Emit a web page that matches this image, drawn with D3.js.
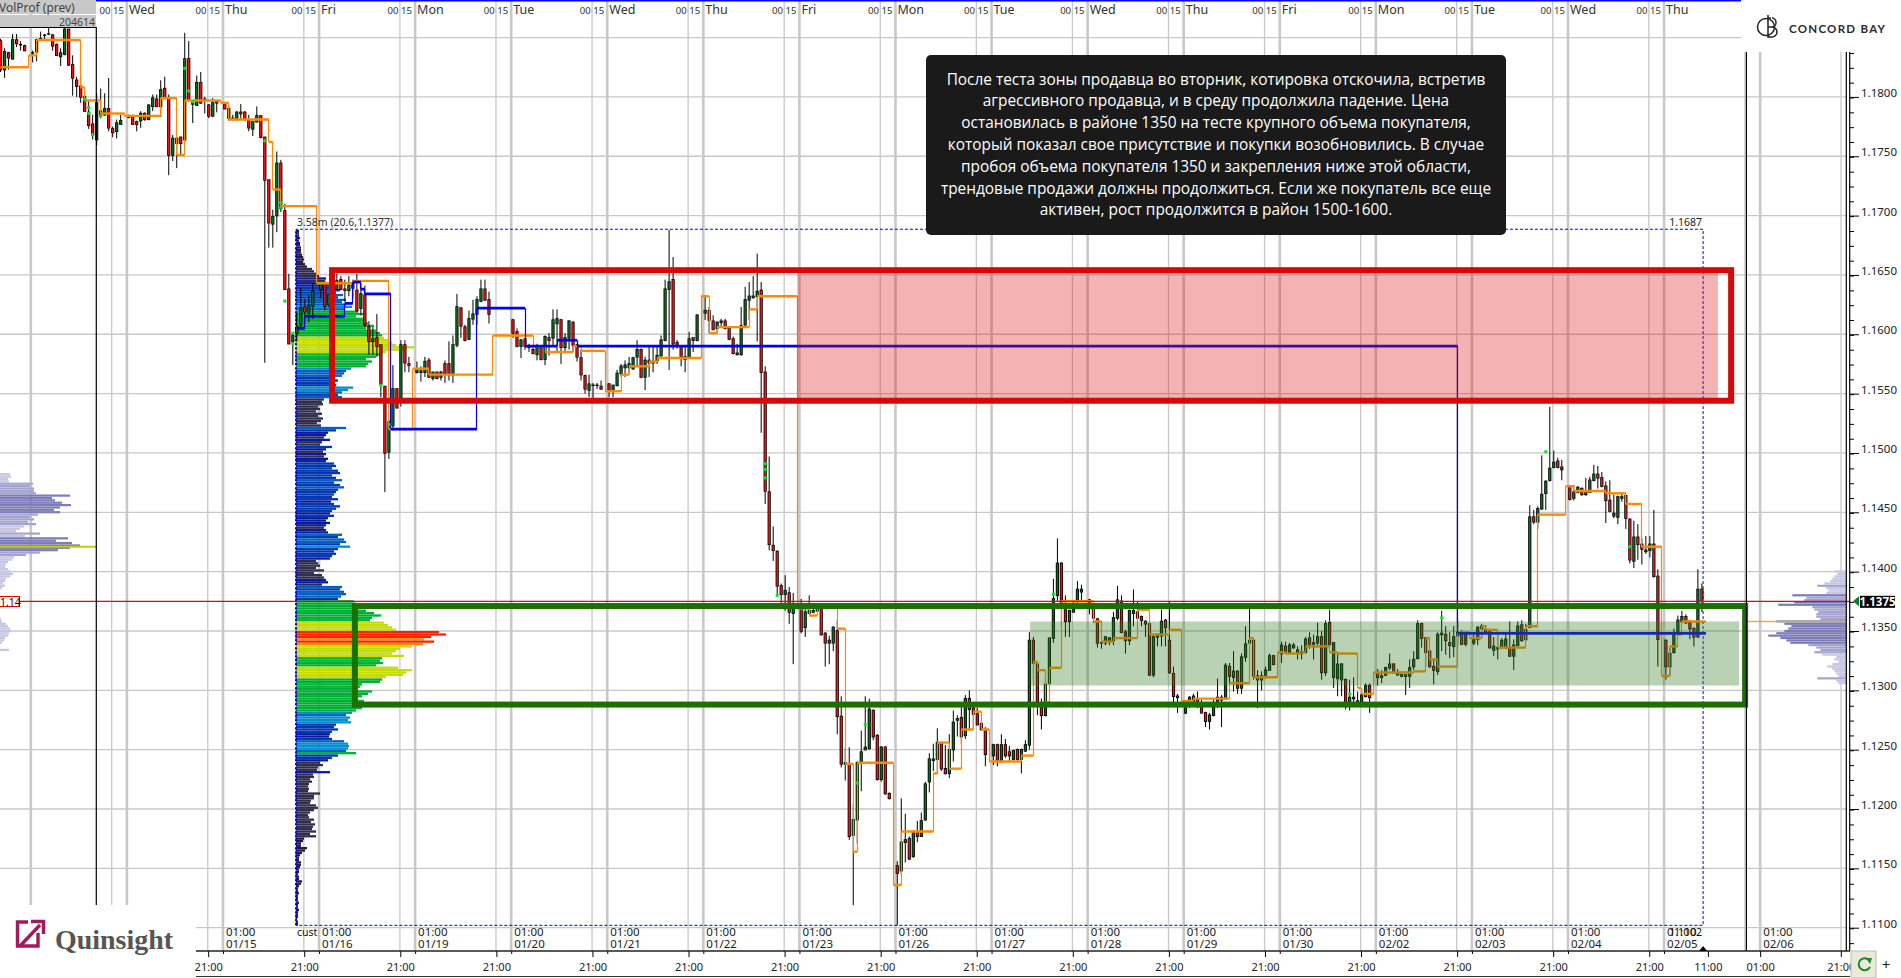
<!DOCTYPE html>
<html><head><meta charset="utf-8">
<style>html,body{margin:0;padding:0;background:#fff;overflow:hidden}svg{display:block}</style>
<script src="https://cdn.jsdelivr.net/npm/d3@7/dist/d3.min.js"></script></head>
<body><svg id="c" width="1901" height="978" font-family="Noto Sans"></svg>
<script>
// Prices are stored in pips over 1.0000 (1375 = 1.1375). Candle = [open, high, low, close]; null = no trading.
const candles=[
[1847,1849,1821,1823],[1823,1841,1816,1838],[1837,1838,1823,1833],[1832,1853,1832,1848],[1848,1853,1842,1845],[1844,1847,1839,1844],[1843,1844,1839,1839],null,
[1837,1839,1829,1837],[1838,1849,1830,1848],[1849,1855,1847,1848],[1852,1853,1848,1852],[1853,1858,1852,1853],[1852,1853,1839,1843],[1844,1845,1835,1835],[1834,1841,1826,1837],
[1836,1858,1835,1857],[1857,1857,1826,1827],[1827,1835,1801,1816],[1814,1817,1800,1809],[1809,1817,1795,1800],[1800,1805,1788,1788],[1787,1797,1773,1776],[1777,1785,1764,1768],
[1764,1803,1759,1795],[1788,1807,1782,1784],[1785,1803,1784,1790],[1790,1816,1771,1774],[1773,1775,1766,1770],[1771,1781,1765,1778],[1777,1785,1777,1780],null,
[1783,1785,1782,1783],[1784,1785,1777,1777],[1779,1780,1771,1777],[1780,1788,1774,1786],[1786,1787,1780,1781],[1781,1794,1781,1793],[1792,1802,1788,1799],[1798,1802,1792,1792],
[1792,1814,1783,1806],[1807,1817,1798,1799],[1799,1802,1734,1751],[1751,1768,1746,1765],[1765,1766,1740,1761],[1766,1766,1751,1761],[1764,1854,1762,1832],[1832,1847,1797,1797],
[1794,1797,1778,1795],[1793,1818,1793,1812],[1812,1821,1794,1795],[1797,1800,1786,1798],[1793,1794,1782,1784],[1784,1799,1783,1795],[1795,1797,1787,1796],null,
[1794,1795,1790,1790],[1790,1792,1780,1782],[1781,1785,1780,1782],[1782,1788,1780,1787],[1787,1794,1781,1786],[1787,1788,1780,1781],[1780,1785,1771,1774],[1773,1779,1767,1779],
[1779,1792,1779,1784],[1784,1784,1765,1766],[1766,1766,1576,1730],[1730,1730,1673,1694],[1693,1705,1673,1699],[1700,1754,1686,1744],[1744,1747,1703,1706],[1704,1710,1637,1638],
[1638,1651,1592,1592],[1594,1601,1574,1599],[1601,1618,1594,1606],[1608,1639,1606,1622],[1623,1630,1609,1619],[1618,1633,1610,1624],[1624,1643,1613,1636],null,
[1638,1644,1630,1643],[1643,1646,1620,1624],[1625,1634,1623,1633],[1633,1644,1632,1641],[1638,1651,1637,1645],[1646,1649,1637,1638],[1638,1646,1627,1637],[1637,1649,1632,1641],
[1643,1646,1630,1639],[1637,1651,1619,1620],[1622,1643,1616,1634],[1633,1641,1606,1608],[1606,1611,1583,1594],[1594,1606,1583,1596],[1597,1617,1581,1590],[1591,1591,1547,1558],
[1556,1556,1467,1500],[1501,1528,1495,1526],[1523,1574,1519,1554],[1554,1554,1538,1538],[1546,1595,1539,1591],[1591,1595,1568,1576],[1575,1581,1568,1574],null,
[1568,1577,1567,1570],[1569,1573,1560,1568],[1568,1581,1564,1577],[1578,1580,1563,1564],[1563,1568,1561,1568],[1568,1568,1562,1563],[1564,1569,1561,1568],[1575,1578,1559,1567],
[1575,1594,1561,1566],[1566,1599,1559,1591],[1591,1634,1589,1623],[1622,1623,1597,1607],[1606,1608,1594,1595],[1596,1620,1595,1613],[1613,1629,1608,1617],[1617,1632,1608,1629],
[1628,1646,1627,1638],[1638,1646,1628,1629],[1629,1636,1609,1617],null,null,null,null,null,
[1612,1613,1597,1601],[1602,1605,1589,1590],[1590,1596,1580,1595],[1596,1596,1587,1590],[1589,1592,1585,1590],[1587,1589,1583,1584],[1583,1592,1578,1590],[1590,1590,1578,1579],
[1579,1599,1574,1598],[1597,1601,1582,1595],[1597,1621,1590,1612],[1609,1621,1584,1613],[1612,1613,1575,1589],[1589,1601,1585,1597],[1597,1612,1587,1611],[1610,1611,1585,1591],
[1591,1592,1577,1581],[1580,1587,1561,1566],[1565,1566,1550,1554],[1553,1566,1547,1558],[1557,1559,1546,1557],[1557,1559,1554,1557],[1556,1561,1553,1554],null,
[1558,1559,1547,1552],[1552,1557,1547,1557],[1557,1570,1556,1567],[1567,1575,1564,1573],[1572,1578,1564,1574],[1572,1581,1567,1575],[1571,1581,1570,1580],[1581,1595,1573,1587],
[1587,1588,1563,1564],[1564,1581,1553,1578],[1578,1590,1564,1576],[1576,1590,1568,1577],[1578,1591,1575,1582],[1582,1599,1581,1595],[1595,1646,1594,1638],[1638,1688,1570,1644],
[1646,1665,1587,1592],[1593,1595,1588,1590],[1590,1590,1573,1580],[1579,1590,1568,1581],[1581,1602,1580,1596],[1597,1597,1585,1595],[1595,1617,1594,1616],null,
[1618,1633,1612,1620],[1620,1623,1601,1612],[1611,1616,1604,1604],[1605,1611,1601,1610],[1610,1613,1606,1611],[1611,1613,1604,1605],[1605,1607,1595,1596],[1596,1598,1583,1584],
[1583,1592,1582,1584],[1583,1623,1582,1607],[1608,1640,1607,1629],[1629,1644,1612,1632],[1631,1649,1630,1632],[1632,1668,1594,1636],[1637,1644,1517,1568],[1568,1573,1457,1468],
[1467,1497,1418,1423],[1422,1438,1409,1418],[1417,1418,1380,1388],[1388,1390,1372,1381],[1381,1397,1367,1384],[1382,1387,1356,1366],[1365,1382,1322,1369],null,
[1369,1377,1348,1350],[1353,1369,1345,1366],[1365,1380,1365,1367],[1366,1370,1365,1367],[1367,1370,1366,1369],[1369,1369,1346,1347],[1348,1349,1320,1340],[1340,1346,1322,1342],
[1340,1354,1333,1353],[1350,1359,1263,1278],[1278,1295,1235,1238],[1238,1251,1224,1239],[1238,1252,1174,1177],[1178,1204,1119,1191],[1191,1240,1171,1239],[1240,1266,1215,1248],
[1250,1295,1250,1252],[1251,1293,1250,1284],[1283,1284,1258,1261],[1262,1263,1224,1225],[1225,1253,1223,1252],[1252,1253,1212,1213],[1213,1214,1208,1209],null,
[1152,1156,1102,1146],[1148,1209,1144,1172],[1172,1196,1155,1174],[1175,1177,1157,1158],[1160,1182,1159,1181],[1181,1190,1172,1177],[1177,1197,1177,1190],[1191,1223,1190,1221],
[1223,1247,1214,1242],[1241,1255,1232,1242],[1242,1268,1230,1256],[1256,1256,1232,1234],[1234,1254,1229,1230],[1230,1263,1226,1250],[1250,1283,1240,1273],[1275,1279,1261,1276],
[1277,1288,1255,1261],[1262,1296,1259,1293],[1293,1300,1267,1284],[1285,1290,1267,1280],[1280,1285,1271,1271],[1272,1274,1266,1267],[1267,1269,1236,1246],null,
[1245,1255,1237,1254],[1254,1255,1236,1240],[1240,1263,1239,1254],[1254,1259,1243,1245],[1248,1253,1240,1245],[1242,1250,1241,1249],[1250,1251,1241,1242],[1242,1251,1230,1250],
[1249,1258,1248,1254],[1254,1349,1250,1342],[1342,1345,1310,1323],[1322,1323,1279,1288],[1285,1293,1267,1279],[1279,1310,1278,1305],[1306,1344,1304,1344],[1344,1394,1340,1377],
[1380,1428,1375,1407],[1407,1408,1353,1373],[1372,1380,1345,1358],[1358,1368,1345,1367],[1366,1375,1366,1368],[1375,1392,1369,1385],[1383,1389,1375,1385],null,
[1374,1377,1364,1376],[1368,1369,1357,1361],[1360,1361,1336,1340],[1340,1358,1335,1340],[1340,1345,1338,1345],[1342,1345,1338,1344],[1342,1366,1338,1361],[1361,1388,1359,1376],
[1375,1380,1348,1349],[1349,1351,1331,1342],[1342,1368,1338,1367],[1365,1385,1354,1367],[1366,1375,1358,1361],[1362,1363,1354,1359],[1356,1359,1345,1358],[1356,1356,1312,1313],
[1313,1346,1311,1345],[1345,1347,1337,1347],[1346,1368,1337,1358],[1359,1360,1337,1353],[1342,1375,1314,1315],[1314,1320,1289,1295],[1294,1297,1281,1295],null,
[1281,1286,1280,1285],[1290,1295,1285,1294],[1291,1297,1286,1295],[1293,1299,1285,1290],[1286,1292,1281,1281],[1281,1282,1269,1274],[1274,1281,1267,1279],[1279,1293,1278,1286],
[1290,1310,1285,1294],[1292,1296,1269,1294],[1293,1323,1292,1321],[1320,1323,1297,1312],[1311,1333,1299,1316],[1316,1317,1297,1302],[1302,1331,1297,1328],[1328,1354,1324,1339],
[1340,1372,1314,1342],[1342,1342,1309,1312],[1312,1317,1285,1309],[1309,1316,1300,1312],[1313,1320,1310,1317],[1317,1331,1317,1329],[1329,1330,1321,1322],null,
[1331,1341,1323,1338],[1337,1341,1331,1333],[1332,1340,1331,1338],[1336,1340,1335,1338],[1332,1337,1326,1334],[1331,1338,1326,1332],[1332,1345,1331,1343],[1344,1349,1335,1339],
[1339,1347,1326,1340],[1340,1357,1338,1345],[1345,1350,1309,1315],[1315,1359,1312,1356],[1357,1368,1337,1339],[1311,1340,1302,1340],[1310,1331,1295,1322],[1309,1323,1295,1322],
[1309,1310,1284,1290],[1289,1309,1283,1294],[1293,1311,1289,1294],[1290,1299,1289,1291],[1290,1302,1288,1296],[1295,1306,1294,1304],[1304,1306,1281,1294],null,
[1315,1318,1304,1311],[1311,1317,1306,1312],[1313,1320,1312,1319],[1319,1331,1317,1322],[1322,1323,1314,1315],[1313,1318,1313,1315],[1312,1314,1311,1313],[1313,1313,1296,1312],
[1312,1326,1302,1319],[1320,1333,1317,1326],[1327,1359,1326,1356],[1356,1357,1336,1344],[1344,1345,1320,1332],[1333,1333,1319,1320],[1320,1326,1305,1317],[1316,1349,1313,1347],
[1347,1367,1333,1348],[1347,1354,1330,1342],[1340,1349,1327,1338],[1337,1354,1328,1345],[1346,1359,1337,1349],[1349,1351,1338,1339],[1339,1349,1337,1348],null,
[1340,1347,1338,1343],[1343,1354,1338,1353],[1352,1356,1344,1354],[1351,1355,1348,1349],[1349,1350,1335,1336],[1334,1345,1329,1337],[1335,1348,1326,1336],[1336,1344,1335,1342],
[1336,1348,1335,1343],[1336,1358,1328,1329],[1329,1343,1317,1338],[1338,1358,1337,1354],[1355,1359,1341,1342],[1343,1356,1341,1351],[1353,1456,1353,1446],[1446,1452,1440,1442],
[1442,1455,1436,1453],[1453,1498,1452,1465],[1466,1477,1452,1476],[1477,1539,1476,1487],[1488,1502,1487,1492],[1493,1496,1487,1488],[1486,1494,1477,1488],null,
[1472,1473,1460,1461],[1462,1473,1460,1467],[1467,1472,1466,1471],[1470,1471,1464,1465],[1465,1479,1464,1468],[1467,1480,1467,1477],[1477,1490,1476,1482],[1482,1489,1470,1479],
[1479,1484,1471,1472],[1472,1476,1441,1460],[1460,1477,1450,1451],[1447,1465,1445,1449],[1446,1464,1440,1463],[1462,1466,1459,1463],[1464,1464,1436,1445],[1444,1445,1407,1410],
[1409,1443,1403,1429],[1429,1440,1410,1423],[1423,1428,1406,1419],[1417,1430,1415,1418],[1418,1430,1412,1423],[1423,1452,1395,1396],[1396,1402,1320,1343],null,
[1342,1343,1309,1320],[1320,1336,1312,1331],[1332,1352,1331,1348],[1348,1363,1347,1359],[1358,1367,1357,1362],[1362,1364,1356,1357],[1358,1359,1343,1352],[1352,1353,1337,1345],
[1345,1402,1345,1385],[1385,1390,1366,1375]];
// POC steps: [bar index where the level starts, level in pips]
const orangeSteps=[[0,1825],[7,1835],[9,1848],[20,1808],[21,1797],[25,1786],[31,1784],[40,1799],[44,1751],[46,1797],[55,1795],[57,1781],[67,1762],[68,1722],[70,1708],[79,1643],[88,1645],[97,1520],[103,1571],[107,1566],[123,1599],[133,1590],[136,1585],[143,1590],[145,1586],[151,1552],[155,1566],[157,1573],[162,1577],[164,1580],[175,1632],[177,1601],[179,1606],[187,1621],[189,1632],[199,1369],[202,1363],[204,1370],[209,1352],[211,1238],[213,1164],[214,1239],[223,1136],[225,1181],[233,1230],[234,1256],[237,1234],[240,1267],[243,1282],[245,1267],[247,1240],[255,1245],[258,1324],[259,1317],[261,1290],[262,1319],[265,1375],[273,1358],[275,1341],[278,1344],[284,1368],[287,1347],[292,1351],[295,1291],[298,1293],[307,1306],[312,1344],[313,1311],[319,1332],[321,1331],[325,1332],[326,1337],[332,1332],[334,1331],[339,1302],[340,1297],[343,1315],[353,1316],[356,1344],[357,1326],[359,1320],[364,1349],[367,1344],[370,1354],[371,1351],[374,1336],[381,1354],[384,1448],[391,1472],[393,1468],[401,1466],[406,1457],[410,1421],[415,1312],[417,1337],[419,1347],[420,1358],[426,1358]];
const blueSteps=[[74,1605],[76,1615],[86,1626],[88,1644],[90,1638],[91,1634],[97.5,1520],[119,1622],[131,1590],[139,1595],[144,1590],[364,1348],[426,1348]];
// Volume-spike dots: [bar index, price in pips]
const spikes=[[21,1798],[22,1791],[22,1786],[25,1784],[23,1768],[46,1824],[47,1805],[48,1796],[66,1763],[70,1711],[70,1707],[71,1628],[73,1601],[73,1592],[95,1557],[97,1524],[191,1491],[191,1486],[191,1479],[194,1380],[263,1381],[214,1222],[216,1271],[337,1297],[360,1361],[386,1501],[407,1421]];
// Volume profiles: rows run downward from the start level, two pips per row.
const mainStart=1688;
const mainVolume=[3,3,3,4,3,4,4,5,5,5,6,7,8,7,9,11,16,18,20,23,30,28,32,33,36,44,40,47,42,50,46,50,56,48,62,68,60,68,70,72,78,70,80,84,86,88,92,96,100,118,108,90,85,80,70,76,72,70,55,50,48,46,38,42,36,40,57,52,46,42,46,28,26,27,22,24,20,26,22,27,25,21,25,50,40,32,30,28,34,26,24,36,30,27,30,28,32,30,38,40,36,42,44,36,40,46,38,44,48,42,40,38,36,42,35,38,44,40,36,34,38,32,30,34,30,28,30,32,46,42,48,50,44,54,42,38,40,36,34,20,22,24,20,28,18,26,28,30,32,26,46,44,48,50,45,42,58,60,62,60,70,78,85,76,74,88,92,96,100,143,150,135,128,138,127,116,104,100,96,108,86,84,87,80,102,116,110,107,90,86,84,66,64,62,76,72,66,62,68,78,64,66,60,56,50,54,52,55,40,38,42,36,34,33,36,48,52,53,52,50,60,42,36,32,24,27,22,21,34,17,18,14,16,13,12,13,12,24,18,18,15,14,20,22,18,14,12,13,18,15,19,17,16,20,14,20,8,7,5,5,11,9,6,4,3,3,5,5,4,3,3,2,3,3,6,5,3,2,2,3,2,2,2,3,2,2,3,2,2,2,1,2,2];
const leftStart=1483;
const leftVolume=[10,11,8,9,33,30,34,34,36,70,52,55,62,71,60,54,60,38,30,34,28,36,24,20,16,40,25,68,56,72,80,70,58,40,26,14,12,8,6,5,8,11,13,10,6,5,3,5,2,0,0,0,0,0,0,0,0,0,0,0,0,1,2,6,8,10,11,9,8,5,4,2,0,0,9];
const rightStart=1401;
const rightVolume=[11,9,12,14,16,22,29,20,18,20,54,40,42,52,68,34,32,28,30,30,26,70,62,55,58,62,70,78,66,60,56,38,30,26,32,24,10,12,8,14,19,14,12,10,8,29,10,8];
const pocLeft=[1421,96], pocRight=[1358,98];
// Labels
const priceTicks=[1.18,1.175,1.17,1.165,1.16,1.155,1.15,1.145,1.14,1.135,1.13,1.125,1.12,1.115,1.11];
const gridPrices=[1.185,...priceTicks];
const weekdays=["Wed","Thu","Fri","Mon","Tue","Wed","Thu","Fri","Mon","Tue","Wed","Thu","Fri","Mon","Tue","Wed","Thu"];
const dates=["01/15","01/16","01/19","01/20","01/21","01/22","01/23","01/26","01/27","01/28","01/29","01/30","02/02","02/03","02/04","02/05","02/06"];
const note=["После теста зоны продавца во вторник, котировка отскочила, встретив","агрессивного продавца, и в среду продолжила падение. Цена","остановилась в районе 1350 на тесте крупного объема покупателя,","который показал свое присутствие и покупки возобновились. В случае","пробоя объема покупателя 1350 и закрепления ниже этой области,","трендовые продажи должны продолжиться. Если же покупатель все еще","активен, рост продолжится в район 1500-1600."];

const svg=d3.select("#c");
const x=d3.scaleLinear().domain([0,425]).range([0.6,1701.9]);
const yPrice=d3.scaleLinear().domain([1.18,1.11]).range([96.9,927.7]);
const y=p=>yPrice(1+p/10000);
const vol=d3.scaleLinear().domain([0,150]).range([0,150]);
const AX=1846.3;
const thin=d3.range(0,19).map(k=>27.75+24*k), thick=d3.range(-1,18).map(k=>31.55+24*k);

const grid=svg.append("g");
grid.selectAll(".h").data(gridPrices).join("line").attr("x1",0).attr("x2",AX).attr("y1",d=>yPrice(d)).attr("y2",d=>yPrice(d)).attr("stroke","#c8c8c8").attr("stroke-width",1.3);
grid.selectAll(".t").data(thin).join("line").attr("x1",x).attr("x2",x).attr("y1",1).attr("y2",951).attr("stroke","#c8c8c8").attr("stroke-width",1.3);
grid.selectAll(".k").data(thick).join("line").attr("x1",x).attr("x2",x).attr("y1",1).attr("y2",951).attr("stroke","#c8c8c8").attr("stroke-width",2.6);

// previous / current side profiles
const sideCol=d3.scaleThreshold().domain([26,50]).range(["#c6c6e2","#a4a4d0","#7c7cb8"]);
svg.append("g").selectAll("rect").data(leftVolume).join("rect").attr("x",0).attr("y",(d,i)=>y(leftStart-2*i)).attr("height",2.2).attr("width",d=>vol(d)).attr("fill",sideCol);
svg.append("g").selectAll("rect").data(rightVolume).join("rect").attr("x",d=>AX-vol(d)).attr("y",(d,i)=>y(rightStart-2*i)).attr("height",2.2).attr("width",d=>vol(d)).attr("fill",sideCol);
svg.append("rect").attr("x",0).attr("width",vol(pocLeft[1])).attr("y",y(pocLeft[0])-1).attr("height",2).attr("fill","#c8c800");
svg.append("rect").attr("x",AX-vol(pocRight[1])).attr("width",vol(pocRight[1])).attr("y",y(pocRight[0])-.7).attr("height",1.4).attr("fill","#c8b840");

// main profile
const mainCol=d3.scaleThreshold().domain([12,30,36,45,52,58,88,120,135]).range(["#241a3c","#302e4a","#0a1a9e","#0038b0","#0060c0","#0090d0","#00b030","#c4dc00","#f09000","#ff2000"]);
const x0Prof=x(73.8);
svg.append("g").selectAll("rect").data(mainVolume).join("rect").attr("x",x0Prof).attr("y",(d,i)=>y(mainStart-2*i)).attr("height",2.3).attr("width",d=>vol(d)).attr("fill",mainCol);

// dashed session box
const rangeTop=1688.5,rangeBottom=1102,rangeL=73.8,rangeR=425.3;
svg.append("path").attr("d",`M${x(rangeL)},${y(rangeBottom)}V${y(rangeTop)}H${x(rangeR)}V${y(rangeBottom)}H${x(rangeL)}`).attr("fill","none").attr("stroke","#0000e0").attr("stroke-width",1).attr("stroke-dasharray","3,2");
svg.append("path").attr("d",`M${x(rangeL)},${y(rangeBottom)}V${y(rangeTop)}`).attr("stroke","#0000e0").attr("stroke-width",2).attr("stroke-dasharray","2,2");

// candles
const cg=svg.append("g");
const bars=candles.map((c,i)=>c&&({i,o:c[0],h:c[1],l:c[2],c:c[3]})).filter(Boolean);
cg.selectAll(".w").data(bars).join("line").attr("x1",d=>x(d.i)).attr("x2",d=>x(d.i)).attr("y1",d=>y(d.h)).attr("y2",d=>y(d.l)).attr("stroke","#000").attr("stroke-width",1);
cg.selectAll(".b").data(bars).join("rect").attr("x",d=>x(d.i)-1.6).attr("width",3.2).attr("y",d=>y(Math.max(d.o,d.c))-.7).attr("height",d=>Math.abs(y(d.o)-y(d.c))+1.4).attr("fill","#000");
cg.selectAll(".f").data(bars).join("rect").attr("x",d=>x(d.i)-.8).attr("width",1.6).attr("y",d=>y(Math.max(d.o,d.c))).attr("height",d=>Math.abs(y(d.o)-y(d.c))).attr("fill",d=>d.c<d.o?"#f01010":"#0c6a1c");

// step lines: thick levels, hair-thin joins snapped to the pixel grid
const snap=v=>Math.floor(x(v))+.5;
function steps(data,col,t){
  const g=svg.append("g"),seg=data.slice(0,-1).map((d,i)=>[d,data[i+1]]);
  g.selectAll(".v").data(seg).join("line").attr("x1",d=>snap(d[1][0])).attr("x2",d=>snap(d[1][0])).attr("y1",d=>y(d[0][1])).attr("y2",d=>y(d[1][1])).attr("stroke",col).attr("stroke-width",1.2);
  g.selectAll(".h").data(seg).join("line").attr("x1",d=>x(d[0][0])).attr("x2",d=>x(d[1][0])).attr("y1",d=>y(d[0][1])).attr("y2",d=>y(d[0][1])).attr("stroke",col).attr("stroke-width",t);
}
steps(orangeSteps,"#ff8a00",2.4);
steps(blueSteps,"#0000f0",2.8);
svg.append("g").selectAll("rect").data(spikes).join("rect").attr("x",d=>x(d[0])-1.5).attr("y",d=>y(d[1])-1.5).attr("width",3).attr("height",3).attr("fill","#00e81c");

// zones
const zone=(a,b,t,bt)=>({x:x(a),w:x(b)-x(a),y:y(t),h:y(bt)-y(t)});
const pink=zone(199,429,1652,1546), greenF=zone(257.2,434.3,1358,1304), redF=zone(82.8,432.3,1654,1544), greenR=zone(88.5,435.8,1371,1288);
const rr=(z,a)=>svg.append("rect").attr("x",z.x).attr("y",z.y).attr("width",z.w).attr("height",z.h).attr("fill","none").call(s=>{for(const k in a)s.attr(k,a[k])});
rr(pink,{fill:"#dc1414","fill-opacity":.32});
rr(greenF,{fill:"#347a22","fill-opacity":.34});
svg.append("line").attr("x1",0).attr("x2",AX+4).attr("y1",yPrice(1.1375)).attr("y2",yPrice(1.1375)).attr("stroke","#f00000").attr("stroke-width",1.2);
rr(redF,{stroke:"#d40a0a","stroke-width":6});
rr(greenR,{stroke:"#1c7000","stroke-width":6});

// session labels
const small=(t,xx,yy,o={})=>svg.append("text").attr("x",xx).attr("y",yy).attr("font-size",o.s||11).attr("fill",o.c||"#111").attr("text-anchor",o.a||"start").attr("font-family",o.f||"Noto Sans").attr("font-weight",o.w||null).text(t);
small("3.58m (20.6,1.1377)",297,y(rangeTop)-3,{s:10.5,c:"#333"});
small("1.1687",x(rangeR)-1,y(rangeTop)-3,{s:10.5,a:"end",c:"#222"});

// header labels
thick.slice(1,18).forEach((t,i)=>{const X=x(t);
  small("00",X-27.5,14,{s:9.6,c:"#333"});small("15",X-14,14,{s:9.6,c:"#333"});small(weekdays[i],X+2,14,{s:12.5,c:"#333"});});

// masks
svg.append("rect").attr("x",1741).attr("y",0).attr("width",160).attr("height",52).attr("fill","#fff");
svg.append("rect").attr("x",0).attr("y",905).attr("width",196).attr("height",73).attr("fill","#fff");
svg.append("line").attr("x1",0).attr("x2",1741).attr("y1",.8).attr("y2",.8).attr("stroke","#0000ff").attr("stroke-width",1.6);

// vertical frames
[[96.3,27,905],[1746.4,52,951],[1846.3,52,951],[1849.7,52,951]].forEach(v=>svg.append("line").attr("x1",v[0]).attr("x2",v[0]).attr("y1",v[1]).attr("y2",v[2]).attr("stroke","#000").attr("stroke-width",1.2));

// VolProf tag
svg.append("rect").attr("x",0).attr("y",0).attr("width",96).attr("height",14).attr("fill","#c8c8c8");
svg.append("rect").attr("x",0).attr("y",15).attr("width",96).attr("height",12).attr("fill","#c8c8c8");
svg.append("line").attr("x1",0).attr("x2",96).attr("y1",27.5).attr("y2",27.5).attr("stroke","#000");
small("VolProf (prev)",-1,12,{s:12,c:"#444"});
small("204614",95,25.5,{s:10.5,a:"end",c:"#444"});

// date labels under the sessions
small("cust",297,936,{s:10.5});
thick.slice(2,19).forEach((t,i)=>{const X=x(t)+3;
  small("01:00",X,936,{s:11.5,c:"#222"});small(dates[i],X,948,{s:11.5,c:"#222"});});
small("1.1102",x(rangeR)-1,936,{s:10.5,a:"end"});

// time axis
const axTicks=d3.range(0,16).map(k=>51.85+24*k).concat([426.5,439.55,459.7]);
const axLabels=new Map(axTicks.map((t,i)=>[t,i<16?"21:00":["11:00","01:00","21:00"][i-16]]));
svg.append("rect").attr("x",196).attr("y",951).attr("width",1654).attr("height",27).attr("fill","#fff");
const xa=svg.append("g").attr("transform","translate(0,951)").call(d3.axisBottom(x).tickValues(axTicks).tickFormat(d=>axLabels.get(d)).tickSize(6).tickPadding(6));
xa.select(".domain").remove();
xa.selectAll("text").attr("font-size",11).attr("font-family","Noto Sans").attr("fill","#222");
const xm=svg.append("g").attr("transform","translate(0,951)").call(d3.axisBottom(x).tickValues(d3.range(0,16).map(k=>55.55+24*k)).tickFormat("").tickSize(3));
xm.select(".domain").remove();
svg.append("line").attr("x1",196).attr("x2",1850).attr("y1",951).attr("y2",951).attr("stroke","#222").attr("stroke-width",1.6);
svg.append("line").attr("x1",196).attr("x2",1850).attr("y1",976.5).attr("y2",976.5).attr("stroke","#333").attr("stroke-width",1.2);
svg.append("path").attr("d",`M${x(rangeR)-4},951l4,-5l4,5z`).attr("fill","#000");

// price axis
const ya=svg.append("g").attr("transform",`translate(1850,0)`).call(d3.axisRight(yPrice).tickValues(priceTicks).tickFormat(d3.format(".4f")).tickSize(9).tickPadding(2));
ya.select(".domain").remove();
ya.selectAll("text").attr("font-size",11.5).attr("font-family","Noto Sans").attr("fill","#222").attr("dy","-0.05em");
const minor=d3.range(1.1087,1.1838,0.00125).filter(v=>yPrice(v)>52&&yPrice(v)<950);
const ym=svg.append("g").attr("transform",`translate(1850,0)`).call(d3.axisRight(yPrice).tickValues(minor).tickFormat("").tickSize(4));
ym.select(".domain").remove();

// last price
svg.append("path").attr("d",`M1853,${yPrice(1.1375)}l6,-5v10z`).attr("fill","#0c7a2c");
svg.append("rect").attr("x",1860).attr("y",yPrice(1.1375)-5.5).attr("width",35).attr("height",12).attr("fill","#000");
small("1.1375",1877.5,yPrice(1.1375)+4.5,{s:11.5,c:"#fff",a:"middle",w:700});
svg.append("rect").attr("x",-1).attr("y",596.5).attr("width",20.5).attr("height",10).attr("fill","#fff").attr("stroke","#e00000");
small("1.14",0,605.5,{s:10.5,c:"#111"});

// corner buttons
svg.append("rect").attr("x",1851).attr("y",951).attr("width",25).attr("height",27).attr("fill","#ece9d8").attr("stroke","#bbb");
svg.append("path").attr("d","M1869,960a6,6 0 1,0 1,7").attr("fill","none").attr("stroke","#188a28").attr("stroke-width",2);
svg.append("path").attr("d","M1866,958l6,0l-2,6z").attr("fill","#188a28");
small("+",1886,970,{s:15,c:"#222",a:"middle"});

// logos
const lg=svg.append("g").attr("stroke","#222").attr("fill","none").attr("stroke-width",1.5);
lg.append("circle").attr("cx",1766).attr("cy",27).attr("r",8.5);
lg.append("path").attr("d","M1768,15V38M1768,18h3M1768,27h4a4,4.5 0 0 0 0,-9M1768,27h4a5,5 0 0 1 0,10h-4");
small("CONCORD BAY",1789,33,{s:11.5,c:"#2a2a2a",w:700,f:"Lato"}).attr("textLength",96).attr("lengthAdjust","spacing");
const qg=svg.append("g").attr("fill","none").attr("stroke","#a31a5c").attr("stroke-width",3.4);
qg.append("path").attr("d","M28,922H17.5V946H38V933");
qg.append("path").attr("d","M20,946L40,925M31,921.5H43.5V934");
small("Quinsight",55,949,{s:27,c:"#555",f:"Liberation Serif",w:700}).attr("textLength",118).attr("lengthAdjust","spacingAndGlyphs");

// note box
svg.append("rect").attr("x",926).attr("y",55).attr("width",580).attr("height",180).attr("rx",5).attr("fill","#1a1a1a");
svg.append("g").selectAll("text").data(note).join("text").attr("x",1216).attr("y",(d,i)=>84.5+i*21.8).attr("text-anchor","middle").attr("fill","#fff").attr("font-size",15.4).attr("font-family","Open Sans").text(d=>d);
</script></body></html>
